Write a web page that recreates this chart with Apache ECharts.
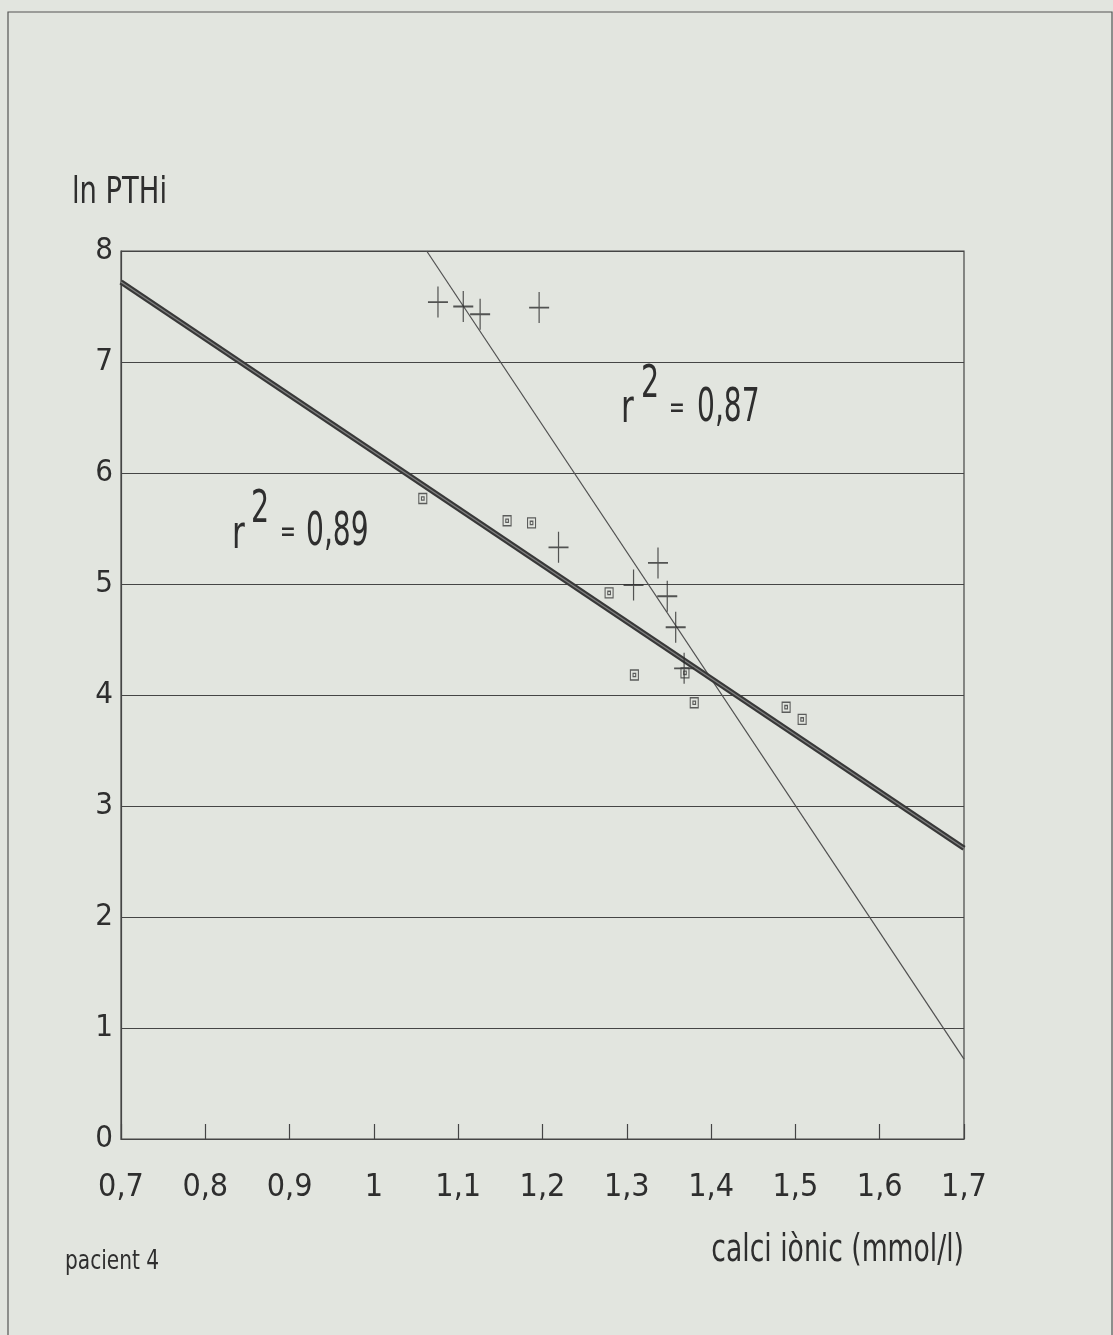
<!DOCTYPE html>
<html><head><meta charset="utf-8">
<script src="https://cdn.jsdelivr.net/npm/echarts@6/dist/echarts.min.js"></script>
<style>html,body{margin:0;padding:0;background:#e2e5df}#c{width:1113px;height:1335px}</style>
</head><body><div id="c"></div>
<script>
var FONT = '"Liberation Sans Narrow","DejaVu Sans Condensed","Roboto Condensed",sans-serif';
var xTicks = [0.7,0.8,0.9,1.0,1.1,1.2,1.3,1.4,1.5,1.6,1.7];
var yTicks = [0,1,2,3,4,5,6,7,8];
// crosses (+): calci iònic, ln PTHi
var crossX = [1.076,1.106,1.126,1.196,1.219,1.308,1.337,1.348,1.358,1.368];
var crossY = [7.54,7.50,7.43,7.49,5.33,4.99,5.19,4.89,4.61,4.24];
// squares
var sqX = [1.058,1.158,1.187,1.279,1.309,1.369,1.380,1.489,1.508];
var sqY = [5.77,5.57,5.55,4.92,4.18,4.20,3.93,3.89,3.78];
// regression lines (endpoints)
var fitThickX = [0.7,1.7], fitThickY = [7.72,2.62];
var fitThinX = [1.0626,1.7], fitThinY = [8.0,0.72];

function pairs(xs, ys){ return xs.map(function(x,i){return [x, ys[i]];}); }
var ink = '#454545';
var txt = '#2e2e2e';
function t(x, y, s, size, sx, align){
  return {type:'text', x:x, y:y, scaleX:sx, style:{text:s, fontSize:size, fontFamily:FONT, fill:txt, align:align||'left', verticalAlign:'middle'}};
}
var chart = echarts.init(document.getElementById('c'));
chart.setOption({
  backgroundColor: '#e2e5df',
  animation: false,
  grid: {left:121, right:149, top:251, bottom:196, show:true, borderColor:ink, borderWidth:1.2, backgroundColor:'transparent'},
  xAxis: {type:'value', min:0.7, max:1.7, interval:0.1,
    axisLine:{show:true, lineStyle:{color:ink, width:1.2}},
    axisTick:{show:true, inside:true, length:15, lineStyle:{color:ink, width:1.2}},
    splitLine:{show:false},
    axisLabel:{margin:33, color:txt, fontSize:32, fontFamily:FONT,
      formatter:function(v){ var s = (Math.round(v*10)/10).toString(); return s.replace('.',','); }}
  },
  yAxis: {type:'value', min:0, max:8, interval:1,
    axisLine:{show:true, lineStyle:{color:ink, width:1.2}},
    axisTick:{show:false},
    splitLine:{show:true, lineStyle:{color:ink, width:1.2}},
    axisLabel:{margin:8, color:txt, fontSize:31, fontFamily:FONT}
  },
  series: [
    {type:'line', data:pairs(fitThinX, fitThinY), symbol:'none', lineStyle:{color:'#505050', width:1.2}, z:3},
    {type:'line', data:pairs(fitThickX, fitThickY), symbol:'none', lineStyle:{color:'#383838', width:5.5}, z:4},
    {type:'line', data:pairs(fitThickX, fitThickY), symbol:'none', lineStyle:{color:'#808080', width:1.3}, z:5},
    {type:'scatter', data:pairs(crossX, crossY), symbol:'path://M10,0 L10,31 M0,15.5 L20,15.5', symbolSize:[20,31],
      itemStyle:{color:'rgba(0,0,0,0)', borderColor:'#2e2e2e', borderWidth:1.5}, z:6},
    {type:'scatter', data:pairs(sqX, sqY), symbol:'path://M0,0 L6,0 L6,9 L0,9 Z M2,3 L4,3 L4,6 L2,6 Z', symbolSize:[8,10],
      itemStyle:{color:'rgba(0,0,0,0)', borderColor:'#3a3a3a', borderWidth:1.2}, z:6}
  ],
  graphic: [
    {type:'rect', shape:{x:8, y:12, width:1104, height:1340}, style:{fill:'none', stroke:'#555', lineWidth:1.2}, silent:true},
    t(72, 193, 'ln PTHi', 38, 0.8),
    t(621, 410, 'r', 46, 0.75),
    t(641, 386, '2', 44, 0.72),
    t(669, 409, '=', 30, 0.7),
    t(697, 409, '0,87', 46, 0.68),
    t(232, 536, 'r', 46, 0.75),
    t(251, 511, '2', 44, 0.72),
    t(280, 533, '=', 30, 0.7),
    t(306, 533, '0,89', 46, 0.68),
    t(964, 1251, 'calci iònic (mmol/l)', 37, 0.8, 'right'),
    t(65, 1262, 'pacient 4', 27, 0.83)
  ]
});
</script></body></html>
